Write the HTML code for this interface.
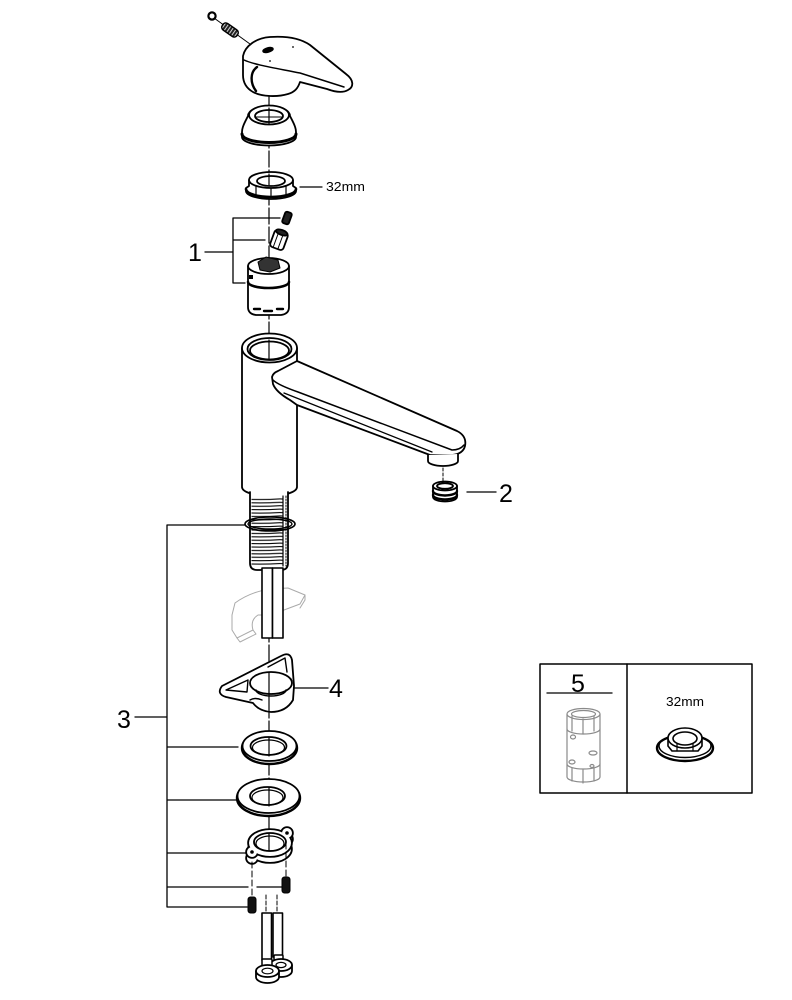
<!DOCTYPE html>
<html><head><meta charset="utf-8">
<style>
html,body{margin:0;padding:0;background:#fff;}
svg{display:block;}
text{font-family:"Liberation Sans",Arial,sans-serif;fill:#000;}
</style></head><body>
<svg width="792" height="1000" viewBox="0 0 792 1000" xmlns="http://www.w3.org/2000/svg">
<defs>
<pattern id="thr" width="40" height="3.4" patternUnits="userSpaceOnUse" y="0.5">
<path d="M0,2 Q20,3.2 40,2" stroke="#000" stroke-width="1.1" fill="none"/>
</pattern>
<pattern id="spr" width="3" height="10" patternUnits="userSpaceOnUse">
<rect width="3" height="10" fill="#222"/><line x1="1.5" y1="0" x2="1.5" y2="10" stroke="#fff" stroke-width="0.8"/>
</pattern>
</defs>
<g fill="none" stroke="#000" stroke-width="1.8" stroke-linejoin="round" stroke-linecap="round">

<!-- base center line -->
<line x1="269" y1="94" x2="269" y2="852" stroke-width="1.2" stroke-dasharray="16 3"/>

<!-- screw + spring -->
<line x1="214" y1="18" x2="250" y2="44" stroke-width="1"/>
<circle cx="212" cy="16" r="3.6" fill="#fff" stroke-width="2.2"/>
<g transform="translate(230,30) rotate(35)">
<rect x="-9" y="-4" width="18" height="8" rx="3.5" fill="url(#spr)" stroke-width="1.4"/>
</g>

<!-- handle -->
<path d="M243,56 C245,46 256,38 270,37 C285,36 300,38 310,45 L346,74 C354,80 354,87 348,90 C343,93 335,92 327,89 L300,82 C298,88 295,92 288,94 C278,97 262,97 253,92 C246,88 243,82 243,75 Z" fill="#fff"/>
<path d="M244,60 C255,65 275,68 300,73 L344,87" stroke-width="1.5"/>
<path d="M257,67 C250,72 250,83 256,91" stroke-width="2.4"/>
<ellipse cx="268" cy="50" rx="5" ry="2" transform="rotate(-15 268 50)" fill="#000"/>
<circle cx="293" cy="47" r="0.9" fill="#000" stroke="none"/>
<circle cx="270" cy="61" r="0.9" fill="#000" stroke="none"/>

<!-- cap -->
<path d="M248,116 C245,122 242,127 242,132 L242,137 A27,8.5 0 0 0 296,137 L296,132 C296,127 293,122 290,116 A21,10 0 0 0 248,116 Z" fill="#fff"/>
<ellipse cx="269" cy="115" rx="20" ry="9.5" fill="#fff"/>
<ellipse cx="269" cy="116" rx="14" ry="6"/>
<path d="M242,134 A27,8.5 0 0 0 296,134" stroke-width="3"/>
<line x1="269" y1="108" x2="269" y2="124" stroke-width="1.2"/>
<line x1="256" y1="117" x2="282" y2="117" stroke-width="1"/>

<!-- nut 32mm -->
<path d="M249,180 L249,186 L246,188 L246,191 A25,8 0 0 0 296,191 L296,188 L293,186 L293,180" fill="#fff"/>
<ellipse cx="271" cy="180" rx="22" ry="8" fill="#fff"/>
<ellipse cx="271" cy="181" rx="14" ry="5"/>
<path d="M246,189 A25,8 0 0 0 296,189" stroke-width="2.6"/>
<path d="M256,186 L256,194 M286,186 L286,194 M271,188 L271,196" stroke-width="1.2"/>
<line x1="269" y1="174" x2="269" y2="186" stroke-width="1.2"/>
<line x1="300" y1="187" x2="322" y2="187" stroke-width="1.2"/>

<!-- bracket 1 -->
<path d="M280,218 H233 V283 H245 M233,240 H265 M205,252 H233" stroke-width="1.3"/>

<!-- small screw -->
<g transform="translate(287,218) rotate(20)">
<rect x="-3.5" y="-6" width="7" height="12" rx="2" fill="#222"/>
</g>
<!-- stem piece -->
<g transform="translate(279,240) rotate(20)">
<rect x="-7" y="-9" width="14" height="18" rx="3" fill="#fff"/>
<ellipse cx="0" cy="-8" rx="6" ry="2.5" fill="#222"/>
<path d="M-3,-5 V8 M2,-5 V8" stroke-width="1"/>
</g>

<!-- cartridge -->
<path d="M248,266 L248,307 Q248,314 256,315 L281,315 Q289,314 289,307 L289,266" fill="#fff"/>
<ellipse cx="268.5" cy="266" rx="20.5" ry="8" fill="#fff"/>
<path d="M248,282 A20.5,6 0 0 0 289,282" stroke-width="2.6"/>
<path d="M258,262 L266,257 L278,260 L280,268 L270,272 L260,270 Z" fill="#333" stroke-width="1"/>
<path d="M254,309 h6 M264,311 h8 M277,309 h6" stroke-width="2.4"/>
<rect x="249" y="275" width="4" height="4" fill="#000" stroke="none"/>

<!-- body -->
<path d="M242,348 L242,487 A27.5,9 0 0 0 297,487 L297,348" fill="#fff"/>
<ellipse cx="269.5" cy="348" rx="27.5" ry="14.5" fill="#fff"/>
<ellipse cx="269.5" cy="349" rx="22" ry="11"/>
<ellipse cx="269.5" cy="350.5" rx="19.5" ry="9"/>
<line x1="269" y1="340" x2="269" y2="359" stroke-width="1.2"/>

<!-- spout -->
<path d="M297,361 L457,431 Q467,436 465,446 Q463,454 452,455 L430,455 L297,405 L290,400 Q276,392 273,384 L272,377 Q273,373 278,371 Z" fill="#fff"/>
<path d="M273,380 Q278,385 298,392 L452,450 Q460,450 464,445" stroke-width="1.5"/>
<path d="M284,393 L432,452" stroke-width="1.3"/>
<path d="M428,455 L428,461 A15,5 0 0 0 458,461 L458,454" fill="#fff"/>
<line x1="443" y1="468" x2="443" y2="481" stroke-width="1" stroke-dasharray="3 2"/>

<!-- aerator -->
<path d="M433,486 L433,497 A12,4.5 0 0 0 457,497 L457,486" fill="#fff"/>
<ellipse cx="445" cy="486" rx="12" ry="4.5" fill="#fff"/>
<ellipse cx="445" cy="486" rx="8" ry="2.8"/>
<path d="M433,491 A12,4.5 0 0 0 457,491" stroke-width="2.4"/>
<path d="M433,495 A12,4.5 0 0 0 457,495" stroke-width="2.4"/>
<line x1="467" y1="492" x2="496" y2="492" stroke-width="1.3"/>

<!-- ghost template -->
<path d="M235,603 Q250,592 270,589 L288,588 L305,595 L300,604 L284,610 L275,615 L258,615 Q250,620 253,630 L237,638 L232,630 L232,615 Z" stroke="#aaa" stroke-width="1"/>
<path d="M237,638 L240,642 L256,634 L253,630 M305,595 L305,600 L300,608" stroke="#aaa" stroke-width="1"/>

<!-- shank -->
<path d="M250,492 L250,563 Q250,570 257,570 L281,570 Q288,570 288,563 L288,492" fill="#fff"/>
<rect x="251.5" y="497" width="31" height="69" fill="url(#thr)" stroke="none"/>
<path d="M283,496 V566" stroke-width="1.2"/>
<path d="M286,496 V566" stroke-width="1" stroke-dasharray="1.5 1.5"/>
<ellipse cx="270" cy="524" rx="25" ry="7" stroke-width="1.6"/>
<ellipse cx="270" cy="524" rx="22" ry="5" stroke-width="1.4"/>

<!-- hoses upper -->
<rect x="262" y="568" width="10.5" height="70" fill="#fff" stroke-width="1.6"/>
<rect x="272.5" y="568" width="10.5" height="70" fill="#fff" stroke-width="1.6"/>

<!-- bracket 3 -->
<path d="M245,525 H167 V907 H247 M167,747 H238 M167,800 H237 M167,853 H248 M167,887 H248 M257,887 H282 M135,717 H167" stroke-width="1.3"/>

<!-- part 4 wedge -->
<path d="M222,686 L281,656 Q290,651 292,660 L294,686 L293,700 Q286,712 271,712 Q259,711 253,703 L226,697 Q216,694 222,686 Z" fill="#fff"/>
<ellipse cx="271" cy="683" rx="21" ry="11" fill="#fff"/>
<path d="M256,690 A15,6 0 0 0 286,690" stroke-width="1.4"/>
<path d="M226,690 L248,680 L247,692 Z" stroke-width="1.4"/>
<path d="M268,667 L285,658 L287,672" stroke-width="1.4"/>
<path d="M250,700 Q255,697 262,700" stroke-width="1.4"/>
<line x1="269" y1="673" x2="269" y2="712" stroke-width="1.2"/>
<line x1="294" y1="688" x2="328" y2="688" stroke-width="1.3"/>

<!-- washer 1 -->
<ellipse cx="269.5" cy="748" rx="27.5" ry="16" fill="#fff" stroke-width="2.4"/>
<ellipse cx="269.5" cy="746" rx="27" ry="15" fill="#fff"/>
<ellipse cx="268.5" cy="746" rx="18" ry="9"/>
<ellipse cx="268.5" cy="747.5" rx="16" ry="7.5" stroke-width="1.2"/>
<line x1="269" y1="738" x2="269" y2="756" stroke-width="1.2"/>

<!-- washer 2 -->
<ellipse cx="268.5" cy="798" rx="31.5" ry="18" fill="#fff" stroke-width="2.4"/>
<ellipse cx="268.5" cy="796" rx="31" ry="17" fill="#fff"/>
<ellipse cx="267.5" cy="796" rx="17.5" ry="9"/>
<ellipse cx="267.5" cy="797.5" rx="15.5" ry="7.5" stroke-width="1.2"/>
<line x1="269" y1="788" x2="269" y2="806" stroke-width="1.2"/>

<!-- flange side -->
<g stroke-width="3.6" fill="#fff">
<ellipse cx="270" cy="849" rx="21" ry="13"/>
<circle cx="252" cy="858" r="5"/>
<circle cx="287" cy="839" r="5"/>
</g>
<g stroke="none" fill="#fff">
<ellipse cx="270" cy="849" rx="21" ry="13"/>
<circle cx="252" cy="858" r="5"/>
<circle cx="287" cy="839" r="5"/>
</g>
<g stroke-width="3.6" fill="#fff">
<ellipse cx="270" cy="843" rx="21" ry="13"/>
<circle cx="252" cy="852" r="5"/>
<circle cx="287" cy="833" r="5"/>
</g>
<g stroke="none" fill="#fff">
<ellipse cx="270" cy="843" rx="21" ry="13"/>
<circle cx="252" cy="852" r="5"/>
<circle cx="287" cy="833" r="5"/>
</g>
<ellipse cx="270" cy="842" rx="16" ry="9"/>
<ellipse cx="270" cy="843.5" rx="14" ry="7.5" stroke-width="1.2"/>
<circle cx="252" cy="852" r="1.8" fill="#000" stroke="none"/>
<circle cx="287" cy="833" r="1.8" fill="#000" stroke="none"/>
<line x1="269" y1="834" x2="269" y2="851" stroke-width="1.2"/>

<!-- dashed screw/hose lines -->
<line x1="252" y1="862" x2="252" y2="897" stroke-width="1" stroke-dasharray="6 3"/>
<line x1="286" y1="843" x2="286" y2="877" stroke-width="1" stroke-dasharray="6 3"/>
<line x1="266" y1="895" x2="266" y2="913" stroke-width="1" stroke-dasharray="4 2"/>
<line x1="277" y1="895" x2="277" y2="913" stroke-width="1" stroke-dasharray="4 2"/>

<!-- screws -->
<rect x="282" y="877" width="8" height="16" rx="2.5" fill="#111" stroke-width="1"/>
<rect x="248" y="897" width="8" height="16" rx="2.5" fill="#111" stroke-width="1"/>

<!-- hoses lower -->
<rect x="262" y="913" width="9.5" height="47" fill="#fff" stroke-width="1.6"/>
<rect x="273" y="913" width="9.5" height="44" fill="#fff" stroke-width="1.6"/>
<!-- right fitting -->
<rect x="274" y="955" width="9" height="9" rx="1" fill="#fff" stroke-width="1.5"/>
<path d="M270,965 L270,971 A11,6 0 0 0 292,971 L292,965" fill="#fff"/>
<ellipse cx="281" cy="965" rx="11" ry="6" fill="#fff"/>
<ellipse cx="281" cy="965" rx="5" ry="2.6" stroke-width="1.2"/>
<!-- left fitting -->
<rect x="262" y="959" width="10" height="9" rx="1" fill="#fff" stroke-width="1.5"/>
<path d="M256,971 L256,977 A11.5,6 0 0 0 279,977 L279,971" fill="#fff"/>
<ellipse cx="267.5" cy="971" rx="11.5" ry="6" fill="#fff"/>
<ellipse cx="267.5" cy="971" rx="5.5" ry="2.8" stroke-width="1.2"/>

<!-- box 5 -->
<rect x="540" y="664" width="212" height="129" stroke-width="1.5"/>
<line x1="627" y1="664" x2="627" y2="793" stroke-width="1.5"/>
<line x1="547" y1="693" x2="612" y2="693" stroke-width="1.3"/>
<g stroke="#8a8a8a" stroke-width="1.2" fill="#fff">
<path d="M567,714 L567,777 A16.5,5 0 0 0 600,777 L600,714"/>
<ellipse cx="583.5" cy="714" rx="16.5" ry="5.5"/>
<ellipse cx="583.5" cy="714" rx="12" ry="3.5"/>
<path d="M567,729 A16.5,5 0 0 0 600,729 M567,764 A16.5,5 0 0 0 600,764"/>
<path d="M572,716 V731 M583,719 V734 M594,716 V731 M572,768 V781 M583,770 V783 M594,768 V781"/>
<ellipse cx="573" cy="737" rx="2.5" ry="2"/>
<ellipse cx="593" cy="753" rx="4" ry="2"/>
<ellipse cx="572" cy="762" rx="3" ry="2"/>
<ellipse cx="592" cy="766" rx="2" ry="1.5"/>
</g>
<ellipse cx="685" cy="748" rx="28" ry="13" fill="#fff" stroke-width="2.4"/>
<ellipse cx="685" cy="746" rx="26" ry="11.5" stroke-width="1.4"/>
<path d="M668,738 L668,746 L672,751 L698,751 L702,746 L702,738" fill="#fff" stroke-width="1.6"/>
<ellipse cx="685" cy="738" rx="17" ry="10" fill="#fff" stroke-width="1.6"/>
<ellipse cx="685" cy="738.5" rx="12" ry="6.5" stroke-width="1.6"/>
<path d="M677,744 L677,751 M693,744 L693,751" stroke-width="1.2"/>
</g>

<!-- text labels -->
<text x="326" y="191" font-size="12.5" textLength="39" lengthAdjust="spacingAndGlyphs">32mm</text>
<text x="188" y="261" font-size="25">1</text>
<text x="499" y="502" font-size="25">2</text>
<text x="117" y="728" font-size="25">3</text>
<text x="329" y="697" font-size="25">4</text>
<text x="571" y="692" font-size="25">5</text>
<text x="666" y="706" font-size="12.5" textLength="38" lengthAdjust="spacingAndGlyphs">32mm</text>
</svg>
</body></html>
